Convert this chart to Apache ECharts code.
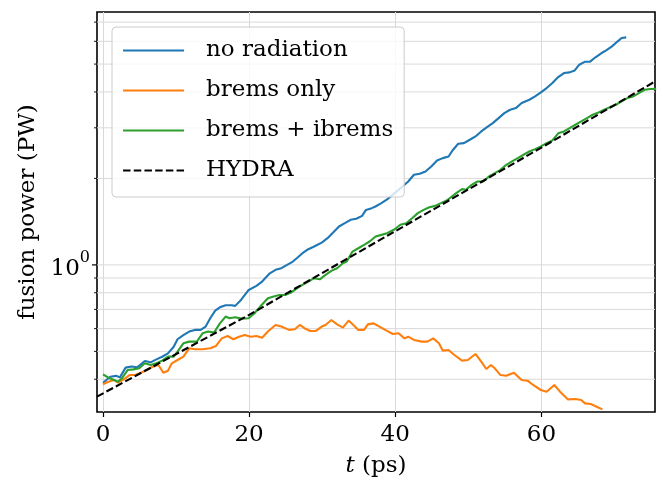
<!DOCTYPE html>
<html><head><meta charset="utf-8">
<script src="https://cdn.jsdelivr.net/npm/echarts@6/dist/echarts.min.js"></script>
<style>html,body{margin:0;padding:0;background:#fff}#c{width:663px;height:483px}</style>
</head><body><div id="c"></div>
<script>
// ---- data ----
const blueT=[0,1.0,1.79,2.31,3.1,3.89,4.68,5.73,6.52,7.31,8.1,8.89,9.68,10.2,11.0,11.8,12.57,13.36,14.05,14.68,15.36,16.0,16.78,17.57,18.1,18.89,19.94,21.0,21.78,22.83,23.62,24.41,25.2,25.99,26.52,27.3,28.1,28.9,29.94,30.73,31.5,32.3,33.1,33.88,34.67,35.46,35.99,36.78,37.3,38.1,38.88,39.93,40.99,41.78,42.56,43.35,44.14,44.93,45.72,46.51,47.3,47.83,48.62,49.4,50.2,50.98,51.77,52.56,53.35,54.14,54.93,55.72,56.51,57.3,58.35,59.14,59.93,60.72,61.51,62.3,63.09,63.87,64.56,65.19,65.98,66.66,67.45,68.24,68.87,69.66,70.45,70.98,71.61];
const blueP=[0.389,0.408,0.411,0.406,0.439,0.443,0.440,0.463,0.458,0.469,0.479,0.492,0.519,0.551,0.570,0.586,0.594,0.594,0.610,0.652,0.693,0.712,0.724,0.724,0.720,0.755,0.818,0.845,0.875,0.935,0.961,0.974,1.0,1.027,1.055,1.098,1.134,1.159,1.196,1.239,1.296,1.360,1.397,1.435,1.447,1.482,1.554,1.576,1.597,1.640,1.690,1.777,1.875,1.951,2.059,2.075,2.114,2.200,2.309,2.353,2.384,2.502,2.640,2.654,2.726,2.800,2.914,3.017,3.116,3.243,3.376,3.467,3.514,3.658,3.757,3.858,3.984,4.125,4.295,4.506,4.653,4.678,4.753,4.975,5.097,5.097,5.291,5.463,5.581,5.764,6.000,6.163,6.194];

const orangeT=[0,0.74,1.53,2.05,2.84,3.63,4.42,5.21,6.0,6.79,7.58,8.26,8.89,9.42,10.2,11.0,11.8,12.57,13.63,14.68,15.47,16.26,17.05,17.84,18.62,19.41,20.2,21.0,21.78,22.57,23.62,24.41,25.46,26.25,26.94,27.57,28.36,29.15,29.94,30.46,31.25,32.04,32.83,33.62,34.41,34.94,35.73,36.25,37.04,37.83,38.88,39.67,40.46,41.25,41.78,42.56,43.62,44.4,45.2,45.98,46.51,47.3,48.09,49.14,49.93,50.98,51.77,52.46,53.09,53.62,54.4,55.19,56.24,57.3,58.1,58.87,59.93,60.72,61.77,62.56,63.61,64.66,65.45,65.98,66.77,67.56,68.35];
const orangeP=[0.384,0.392,0.3975,0.389,0.3996,0.4136,0.4136,0.4214,0.4305,0.4421,0.4484,0.4214,0.4282,0.4544,0.4667,0.4793,0.5126,0.5085,0.5085,0.5126,0.5223,0.555,0.5655,0.551,0.5625,0.570,0.5625,0.5655,0.558,0.586,0.618,0.610,0.594,0.597,0.618,0.602,0.589,0.589,0.610,0.618,0.643,0.621,0.605,0.640,0.613,0.594,0.594,0.621,0.626,0.610,0.589,0.575,0.578,0.555,0.5625,0.548,0.5407,0.5407,0.555,0.5335,0.503,0.5056,0.4857,0.4642,0.4667,0.4897,0.4605,0.4341,0.4484,0.4365,0.4136,0.4114,0.4214,0.3975,0.3954,0.382,0.3669,0.362,0.382,0.362,0.3404,0.3413,0.3386,0.3296,0.3279,0.3209,0.3141];

const greenT=[0,0.74,1.53,2.05,2.58,3.37,4.16,4.95,5.73,6.52,7.31,8.1,8.89,9.68,10.2,11.0,11.8,12.84,13.63,14.4,15.2,16.0,16.78,17.3,18.1,18.9,19.94,20.73,21.52,22.57,23.36,24.15,24.94,25.73,26.52,27.3,28.1,28.9,29.67,30.46,31.25,32.04,32.83,33.36,34.15,34.94,35.73,36.5,37.3,38.1,38.88,39.93,40.7,41.5,42.3,43.09,43.88,44.67,45.46,46.25,47.04,48.35,49.14,49.67,50.46,51.25,52.04,52.83,53.62,54.4,55.19,55.98,56.77,57.56,58.35,59.14,59.93,60.72,61.51,62.3,63.09,63.87,64.66,65.45,66.24,67.03,67.82,68.61,69.4,70.19,70.98,71.77,72.56,73.34,74.13,74.92,75.71];
const greenP=[0.416,0.405,0.3975,0.392,0.403,0.4305,0.4328,0.4365,0.4544,0.4484,0.4544,0.4642,0.4793,0.4793,0.4989,0.5335,0.5407,0.5407,0.578,0.586,0.581,0.626,0.661,0.652,0.657,0.650,0.652,0.679,0.716,0.765,0.776,0.786,0.786,0.801,0.829,0.852,0.875,0.899,0.891,0.923,0.953,0.974,1.013,1.027,1.113,1.143,1.174,1.206,1.255,1.272,1.289,1.331,1.379,1.397,1.454,1.514,1.554,1.588,1.605,1.640,1.676,1.777,1.835,1.825,1.900,1.951,1.951,2.031,2.086,2.142,2.230,2.291,2.353,2.417,2.482,2.529,2.584,2.654,2.711,2.870,2.914,2.993,3.074,3.157,3.243,3.331,3.394,3.467,3.542,3.609,3.707,3.808,3.858,3.963,4.070,4.093,4.100];

const hydraT=[-0.82,20,40,60,75.55];
const hydraP=[0.348,0.67,1.31,2.56,4.35];

const seriesNames=['no radiation','brems only','brems + ibrems','HYDRA'];
const xTicks=[0,20,40,60];
const yMajor=[1];
const yMinor=[0.4,0.5,0.6,0.7,0.8,0.9,2,3,4,5,6,7];

// ---- chart ----
const X_MIN=-0.82, X_MAX=75.55, Y_MIN=0.3076, Y_MAX=7.59;
const FONT='DejaVu Serif';
const pairs=(t,p)=>t.map((x,i)=>[x,p[i]]);
const gridColor='#d9d9d9';

const yTickData=yMajor.map(v=>[X_MIN,v,1]).concat(yMinor.map(v=>[X_MIN,v,0]));

function lineSeries(name,t,p,color,dashed){
  return {type:'line',name,data:pairs(t,p),showSymbol:false,symbol:'none',z:3,
    lineStyle:{color,width:2.1,type:dashed?[7.5,3.2]:'solid'},itemStyle:{color},clip:true};
}

const chart=echarts.init(document.getElementById('c'),null,{renderer:'canvas'});
chart.setOption({
  animation:false,
  grid:{left:97,right:8,top:12,bottom:71,show:true,borderColor:'#000',borderWidth:1.6,backgroundColor:'transparent'},
  xAxis:{type:'value',min:X_MIN,max:X_MAX,
    axisLine:{show:false},
    axisTick:{show:true,customValues:xTicks,length:5,lineStyle:{color:'#000',width:1.2}},
    axisLabel:{customValues:xTicks,color:'#000',fontFamily:FONT,fontSize:23,margin:12},
    splitLine:{show:true,lineStyle:{color:gridColor,width:1}},
    name:'{i|t} (ps)',nameLocation:'middle',nameGap:43,
    nameTextStyle:{color:'#000',fontFamily:FONT,fontSize:23,
      rich:{i:{fontFamily:FONT,fontSize:23,fontStyle:'italic',color:'#000'}}}
  },
  yAxis:{type:'log',logBase:10,min:Y_MIN,max:Y_MAX,
    axisLine:{show:false},axisTick:{show:false},splitLine:{show:false},minorTick:{show:false},
    axisLabel:{margin:7,color:'#000',
      formatter:v=>Math.abs(v-1)<1e-6?'{b|10}{s|0}':'',
      rich:{b:{fontFamily:FONT,fontSize:23,color:'#000',verticalAlign:'bottom'},
            s:{fontFamily:FONT,fontSize:16,color:'#000',verticalAlign:'bottom',padding:[0,0,15,0]}}},
    name:'fusion power (PW)',nameLocation:'middle',nameGap:46,nameRotate:90,
    nameTextStyle:{color:'#000',fontFamily:FONT,fontSize:23}
  },
  legend:{data:seriesNames,orient:'vertical',left:112,top:27,
    padding:[10,11,13,10],itemWidth:61,itemHeight:25,itemGap:13,
    itemStyle:{opacity:0},lineStyle:{width:2.1},
    textStyle:{fontFamily:FONT,fontSize:23,lineHeight:27,color:'#000',padding:[0,0,0,17]},
    backgroundColor:'rgba(255,255,255,0.8)',borderColor:'#cccccc',borderWidth:1,borderRadius:4},
  series:[
    {type:'custom',name:'ygrid',silent:true,z:1,data:yTickData,encode:{x:0,y:1},
      renderItem:(params,api)=>{
        const v=api.value(1), major=api.value(2)===1;
        const a=api.coord([X_MIN,v]), b=api.coord([X_MAX,v]);
        const len=major?5:3;
        return {type:'group',children:[
          {type:'line',shape:{x1:a[0],y1:a[1],x2:b[0],y2:b[1]},style:{stroke:gridColor,lineWidth:1}},
          {type:'line',shape:{x1:a[0]-len,y1:a[1],x2:a[0],y2:a[1]},style:{stroke:'#000',lineWidth:major?1.2:0.9}}
        ]};
      }},
    lineSeries(seriesNames[0],blueT,blueP,'#1f77b4',false),
    lineSeries(seriesNames[1],orangeT,orangeP,'#ff7f0e',false),
    lineSeries(seriesNames[2],greenT,greenP,'#2ca02c',false),
    lineSeries(seriesNames[3],hydraT,hydraP,'#000000',true)
  ]
});
</script></body></html>
